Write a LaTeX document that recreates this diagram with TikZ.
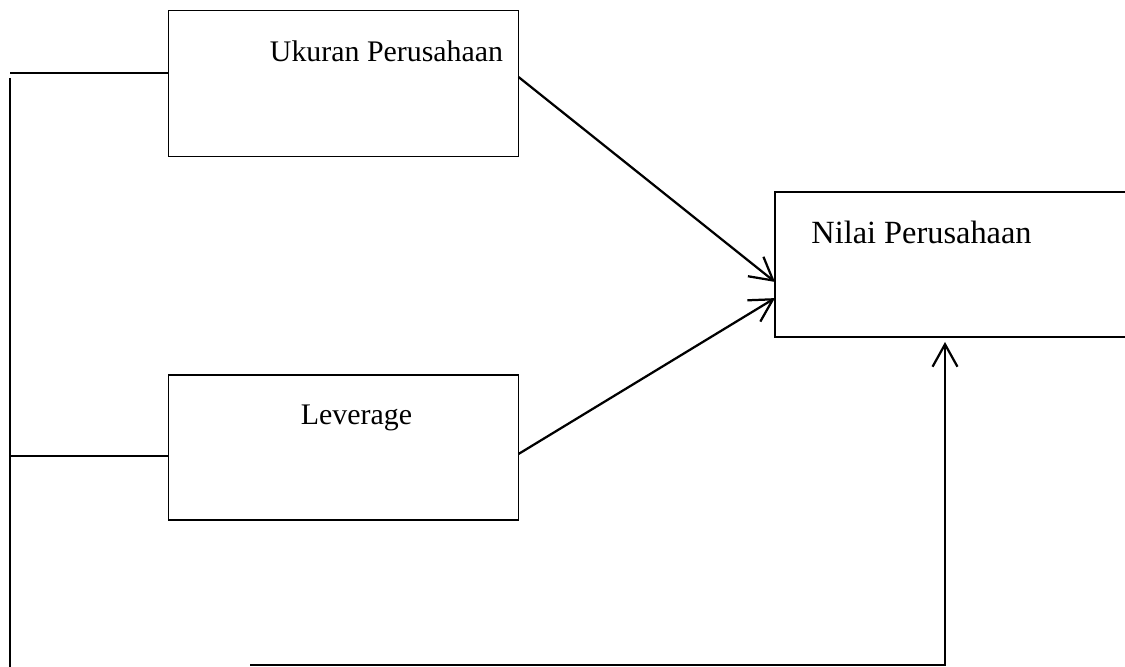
\documentclass[tikz,border=0pt]{standalone}
\usepackage{fontspec}
\setmainfont{Liberation Serif}
\usetikzlibrary{arrows.meta,positioning}

\begin{document}
\begin{tikzpicture}[x=0.4016pt,y=-0.4016pt,
  kotak/.style={draw, line width=0.6pt, inner sep=0pt, outer sep=0pt, minimum width=140.6pt, minimum height=58.6pt},
  teks/.style={anchor=base, inner sep=0pt, font=\fontsize{12}{14}\selectfont},
  garis/.style={line width=0.9pt},
  panah/.style={line width=0.9pt, -{Straight Barb[length=9pt,width=10pt]}}]
\clip (0,0) rectangle (1125,667);

% Variabel independen
\node[kotak] (ukuran) at (343.5,83.5) {};
\node[teks] (ukurantxt) at (386.5,62) {Ukuran Perusahaan};

\node[kotak, minimum height=58.2pt] (leverage) at (343.5,447.5) {};
\node[teks] (leveragetxt) at (356.5,425) {Leverage};

% Variabel dependen
\node[kotak, minimum width=144.6pt, minimum height=58.2pt] (nilai) at (955,264.5) {};
\node[teks, font=\fontsize{13}{15}\selectfont] (nilaitxt) at (921.5,244) {Nilai Perusahaan};

% Titik bantu
\coordinate (atas) at (10,73);
\coordinate (tengah) at (10,456);
\coordinate (bawah) at (10,667);
\coordinate (mulai) at (250,665);
\coordinate (belok) at (945,665);
\coordinate (ujung) at (945,342);

% Panah
\draw[panah] ([yshift=2.6pt]ukuran.east) -- ([yshift=-7pt]nilai.west);
\draw[panah] ([yshift=-2.6pt]leverage.east) -- ([yshift=-13.5pt]nilai.west);
\draw[panah] (mulai) -- (belok) -- (ujung);

% Garis kiri
\draw[garis] (atas) -- (ukuran.west |- atas);
\draw[garis] (tengah) -- (leverage.west |- tengah);
\draw[garis] (10,78) -- (bawah);
\end{tikzpicture}
\end{document}
